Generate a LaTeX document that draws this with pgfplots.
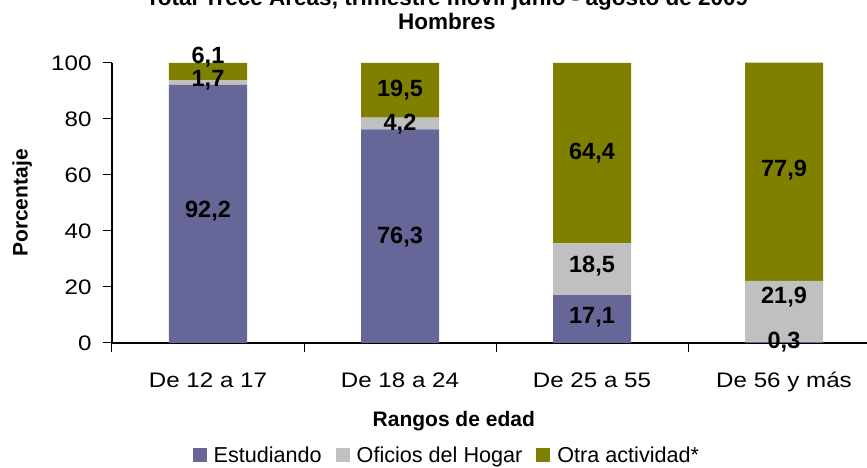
\documentclass[border=0pt]{standalone}
\usepackage{pgfplots}
\pgfplotsset{compat=1.18}
\usepackage{fontspec}
\setmainfont{Liberation Sans}
\newfontfamily\widefam{Liberation Sans}[FakeStretch=1.15]
\definecolor{estud}{HTML}{666699}
\definecolor{ofic}{HTML}{C0C0C0}
\definecolor{otra}{HTML}{808000}
\newcommand{\regfont}{\fontsize{21.6}{25}\selectfont}
\newcommand{\tickfont}{\widefam\fontsize{21}{25}\selectfont}
\newcommand{\boldfont}{\bfseries\fontsize{21}{25}\selectfont}
\newcommand{\valfont}{\bfseries\fontsize{23.5}{27}\selectfont}
\pgfplotstableread{
x est ofi otr
0 92.2 1.7 6.1
1 76.3 4.2 19.5
2 17.1 18.5 64.4
3 0.3 21.9 77.9
}\datatab
\pgfplotstableread{
x y label
0 102.2 6,1
0 94.0 1,7
0 47.0 92,2
1 90.4 19,5
1 78.2 4,2
1 37.9 76,3
2 67.9 64,4
2 27.5 18,5
2 9.3 17,1
3 61.8 77,9
3 16.4 21,9
3 0.4 0,3
}\labtab
\begin{document}
\begin{tikzpicture}
\begin{axis}[
  at={(0pt,0pt)}, anchor=south west,
  scale only axis, width=768pt, height=280pt,
  xmin=-0.5, xmax=3.5, ymin=0, ymax=100,
  ybar stacked, bar width=78pt,
  axis x line*=bottom, axis y line*=left,
  axis line style={line width=1.2pt},
  tick align=outside, major tick length=9pt,
  tick style={black, line width=1pt},
  xtick={-0.5,0.5,1.5,2.5}, xticklabels={},
  extra x ticks={0,1,2,3},
  extra x tick labels={De 12 a 17, De 18 a 24, De 25 a 55, De 56 y más},
  extra x tick style={major tick length=0pt},
  xticklabel style={font=\tickfont, yshift=-26pt},
  ytick={0,20,40,60,80,100},
  yticklabel style={font=\tickfont, xshift=-8pt},
  /pgf/number format/assume math mode=true,
  xlabel={Rangos de edad},
  xlabel style={font=\boldfont, at={(axis description cs:0.445,-0.279)}, anchor=center},
  ylabel={Porcentaje},
  ylabel style={font=\boldfont, at={(axis description cs:-0.117,0.5)}, anchor=center},
  legend columns=3,
  legend style={at={(rel axis cs:0.436,-0.4)}, anchor=center, draw=none, font=\regfont,
    /tikz/every odd column/.append style={column sep=5pt},
    /tikz/every even column/.append style={column sep=12pt}},
  legend image code/.code={\fill[#1,draw=none] (0pt,-7pt) rectangle (14pt,7pt);},
]
\addplot[fill=estud, draw=none] table[x=x, y=est] {\datatab};
\addplot[fill=ofic, draw=none] table[x=x, y=ofi] {\datatab};
\addplot[fill=otra, draw=none] table[x=x, y=otr] {\datatab};
\legend{Estudiando, Oficios del Hogar, Otra actividad*}
\end{axis}
\begin{axis}[
  at={(0pt,0pt)}, anchor=south west,
  scale only axis, width=768pt, height=280pt,
  xmin=-0.5, xmax=3.5, ymin=0, ymax=100,
  hide axis, clip=false,
]
\addplot[draw=none, mark=none, nodes near coords, point meta=explicit symbolic,
  every node near coord/.style={anchor=center, font=\valfont, text=black}]
  table[x=x, y=y, meta=label] {\labtab};
\end{axis}
\node[anchor=base, font=\bfseries\fontsize{22.5}{26}\selectfont] at (335pt,313pt) {Hombres};
\node[anchor=base, font=\bfseries\fontsize{22.5}{26}\selectfont] at (335pt,337pt) {Total Trece Áreas, trimestre móvil junio - agosto de 2009};
\pgfresetboundingbox
\useasboundingbox (-112pt,-125pt) rectangle (755pt,343pt);
\end{tikzpicture}
\end{document}
